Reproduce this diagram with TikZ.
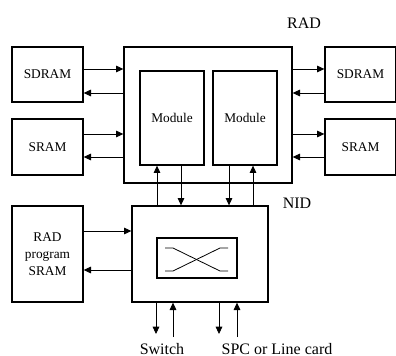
\documentclass[tikz,border=0pt]{standalone}
\usepackage{fontspec}
\setmainfont{Liberation Serif}
\usetikzlibrary{arrows.meta}
\usetikzlibrary{calc}

\begin{document}
\begin{tikzpicture}[x=0.75pt, y=-0.75pt,
  every node/.style={font=\fontsize{10}{12.5}\selectfont},
  box/.style={draw, line width=1pt, inner sep=0pt},
  arr/.style={-{Triangle[length=5.5pt,width=5pt]}, line width=0.6pt},
  tag/.style={font=\fontsize{12}{14}\selectfont}]

        \useasboundingbox (0,0) rectangle (396,356);

        % memories
        \node[box, minimum width=53.25pt, minimum height=41.25pt] (sdramL) at (47.5,74.5) {SDRAM};
        \node[box, minimum width=53.25pt, minimum height=42pt] (sramL) at (47.5,147) {SRAM};
        \node[box, minimum width=53.25pt, minimum height=41.25pt] (sdramR) at (360.5,74.5) {SDRAM};
        \node[box, minimum width=53.25pt, minimum height=42pt] (sramR) at (360.5,147) {SRAM};
        \node[box, minimum width=53.25pt, minimum height=72pt, align=center] (progL) at (47.5,254) {RAD\\program\\SRAM};

        % RAD and its modules
        \node[box, minimum width=126pt, minimum height=102pt] (rad) at (208,115) {};
        \node[box, minimum width=48pt, minimum height=70.5pt] (mod1) at (172,118) {Module};
        \node[box, minimum width=48pt, minimum height=70.5pt] (mod2) at (245,118) {Module};
        \node[tag] (radlbl) at (304,23) {RAD};

        % NID with crossbar
        \node[box, minimum width=102pt, minimum height=72pt] (nid) at (200,254) {};
        \node[box, minimum width=60pt, minimum height=30pt] (xbar) at (197,258) {};
        \node[tag] (nidlbl) at (297,203) {NID};

        \draw[line width=0.6pt] (165,248) -- (173,248) -- (220,271) -- (228,271);
        \draw[line width=0.6pt] (165,271) -- (173,271) -- (220,248) -- (228,248);

        % memory buses
        \foreach \y/\z in {69/93, 134/157} {
          \draw[arr] (sdramL.east |- 0,\y) -- (rad.west |- 0,\y);
          \draw[arr] (rad.west |- 0,\z) -- (sdramL.east |- 0,\z);
          \draw[arr] (rad.east |- 0,\y) -- (sdramR.west |- 0,\y);
          \draw[arr] (sdramR.west |- 0,\z) -- (rad.east |- 0,\z);
        }
        \draw[arr] (progL.east |- 0,231) -- (nid.west |- 0,231);
        \draw[arr] (nid.west |- 0,270) -- (progL.east |- 0,270);

        % module <-> NID
        \draw[arr] (nid.north -| 157,0) -- (mod1.south -| 157,0);
        \draw[arr] (mod1.south -| 181,0) -- (nid.north -| 181,0);
        \draw[arr] (mod2.south -| 229,0) -- (nid.north -| 229,0);
        \draw[arr] (nid.north -| 253,0) -- (mod2.south -| 253,0);

        % external ports
        \coordinate (swout) at (156,334);
        \coordinate (swin) at (173,337);
        \coordinate (lcout) at (219,334);
        \coordinate (lcin) at (237,337);

        \draw[arr] (nid.south -| swout) -- (swout);
        \draw[arr] (swin) -- (nid.south -| swin);
        \draw[arr] (nid.south -| lcout) -- (lcout);
        \draw[arr] (lcin) -- (nid.south -| lcin);

        \node[tag] (swlbl) at (162,349) {Switch};
        \node[tag] (lclbl) at (277,349) {SPC or Line card};

\end{tikzpicture}
\end{document}
